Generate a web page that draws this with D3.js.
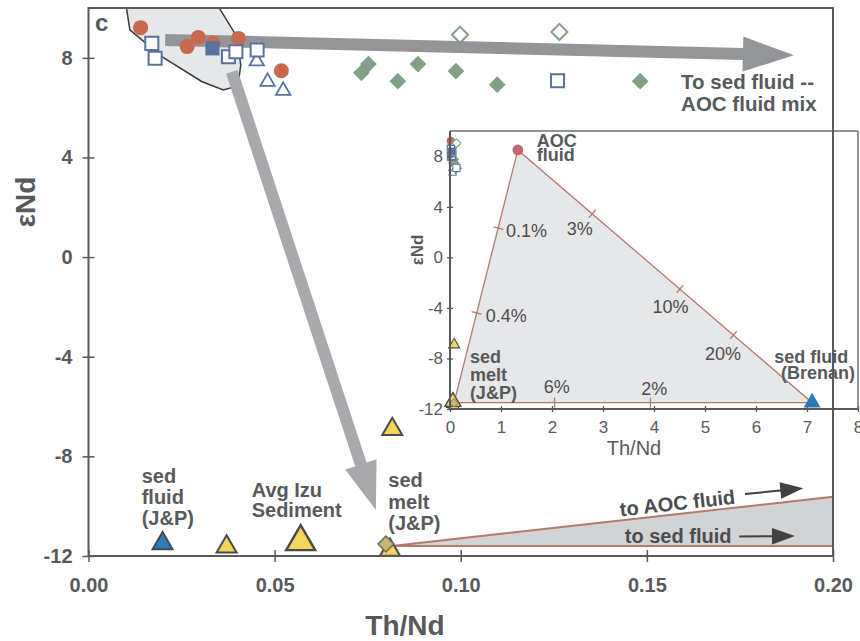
<!DOCTYPE html>
<html>
<head>
<meta charset="utf-8">
<script src="https://cdn.jsdelivr.net/npm/d3@7"></script>
<style>
  body { margin: 0; background: #fff; }
  svg { display: block; }
  text { font-family: "Liberation Sans", Arial, Helvetica, sans-serif; }
</style>
</head>
<body>
<svg id="chart" width="860" height="641"></svg>
<script>
// ---------- data: Th/Nd (x) vs εNd (y) ----------
const circleSamples   = [[0.0140, 9.21], [0.0265, 8.45], [0.0295, 8.82], [0.0335, 8.58], [0.0403, 8.78], [0.0518, 7.48]];
const openSquares     = [[0.0170, 8.58], [0.0179, 7.98], [0.0376, 8.04], [0.0396, 8.24], [0.0453, 8.31], [0.1260, 7.08]];
const filledSquares   = [[0.0333, 8.38]];
const openTriangles   = [[0.0452, 7.86], [0.0481, 7.04], [0.0523, 6.68]];
const filledDiamonds  = [[0.0733, 7.40], [0.0752, 7.75], [0.0831, 7.06], [0.0885, 7.75], [0.0987, 7.47], [0.1098, 6.92], [0.1482, 7.06]];
const openDiamonds    = [[0.0998, 8.93], [0.1265, 9.04]];
const sedimentSamples = [[0.0371, -11.63], [0.0816, -6.91], [0.0810, -11.76]];
const avgIzuSediment  = [[0.0570, -11.43]];
const sedFluidJP      = [[0.0199, -11.50]];
const sedMeltJP       = [[0.0799, -11.52]];

// shaded field enclosing the low Th/Nd, high εNd samples
const fieldOutline = [[0.0098, 10.4], [0.0111, 9.12], [0.0197, 8.05], [0.0304, 7.05], [0.0362, 6.71],
                      [0.0389, 6.82], [0.0405, 7.25], [0.0409, 7.72], [0.0398, 8.86], [0.0335, 10.4]];

// mixing wedge from sediment melt toward the two fluids
const wedgeApex     = [0.0815, -11.6];
const wedgeToAOC    = [0.20, -9.62];
const wedgeToSedFl  = [0.20, -11.6];

// trend arrows (start, tip)
const trendToFluids = [[0.0206, 8.72], [0.1895, 8.10]];
const trendToMelt   = [[0.0385, 7.44], [0.0772, -10.15]];

// small arrows beside the wedge labels
const arrowAOC   = [[0.17636, -9.511], [0.19202, -9.282]];
const arrowSedFl = [[0.17483, -11.217], [0.18979, -11.197]];

// inset end-members
const aocFluid      = [1.33, 8.5];
const sedFluidBren  = [7.10, -11.5];
const sedMeltInset  = [0.08, -11.5];

// mixing-line ticks: edge, position, label
const mixTicks = [
  { edge: "melt-aoc",  p: [0.95, 2.32],   label: "0.1%", at: [1.10, 1.59] },
  { edge: "melt-aoc",  p: [0.52, -4.40],  label: "0.4%", at: [0.70, -5.09] },
  { edge: "aoc-bren",  p: [2.79, 3.45],   label: "3%",   at: [2.29, 1.77] },
  { edge: "aoc-bren",  p: [4.51, -2.50],  label: "10%",  at: [3.97, -4.43] },
  { edge: "aoc-bren",  p: [5.56, -6.14],  label: "20%",  at: [5.00, -8.12] },
  { edge: "melt-bren", p: [2.05, -11.5],  label: "6%",   at: [1.84, -10.76] },
  { edge: "melt-bren", p: [3.93, -11.5],  label: "2%",   at: [3.75, -10.89] }
];

// tick values
const xTicks  = [0, 0.05, 0.10, 0.15, 0.20];
const yTicks  = [-12, -8, -4, 0, 4, 8];
const xiTicks = [0, 1, 2, 3, 4, 5, 6, 7, 8];
const yiTicks = [-12, -8, -4, 0, 4, 8];

// ---------- styles ----------
const AXIS = "#58595b", TEXT = "#58595b";
const RED = "#c8694e", BLUE = "#5a72a0", GREEN = "#82a085";
const YELLOW = "#f3d55b", DARK = "#4a4a4c", BLUE_TRI = "#2f7db8", TAN = "#c9b56c";
const LINE_ROSE = "#b5786f";
const intLabel = d => String(d);   // plain hyphen for negatives

const svg = d3.select("#chart");

// ---------- scales ----------
const x = d3.scaleLinear().domain([0, 0.2]).range([88.5, 833]);
const y = d3.scaleLinear().domain([-12, 10]).range([556, 8]);
const xi = d3.scaleLinear().domain([0, 8]).range([450, 858]);
const yi = d3.scaleLinear().domain([-12, 10]).range([409, 131]);

svg.append("defs").append("clipPath").attr("id", "plotClip")
  .append("rect").attr("x", x(0)).attr("y", y(10)).attr("width", x(0.2) - x(0)).attr("height", y(-12) - y(10));

// ---------- helpers ----------
const sym = (type, size) => d3.symbol().type(type).size(size)();

function drawSeries(g, sx, sy, k) {
  const place = d => `translate(${sx(d[0])},${sy(d[1])})`;
  // circles
  g.selectAll(null).data(circleSamples).join("path")
    .attr("d", sym(d3.symbolCircle, 177 * k * k)).attr("transform", place)
    .attr("fill", RED);
  // filled diamonds
  g.selectAll(null).data(filledDiamonds).join("path")
    .attr("d", sym(d3.symbolSquare, 140 * k * k)).attr("transform", d => place(d) + " rotate(45)")
    .attr("fill", GREEN);
  // open diamonds
  g.selectAll(null).data(openDiamonds).join("path")
    .attr("d", sym(d3.symbolSquare, 130 * k * k)).attr("transform", d => place(d) + " rotate(45)")
    .attr("fill", "#fff").attr("stroke", GREEN).attr("stroke-width", 2 * k);
  // open triangles
  g.selectAll(null).data(openTriangles).join("path")
    .attr("d", sym(d3.symbolTriangle, 90 * k * k)).attr("transform", place)
    .attr("fill", "#fff").attr("stroke", BLUE).attr("stroke-width", 1.8 * k);
  // open squares
  g.selectAll(null).data(openSquares).join("path")
    .attr("d", sym(d3.symbolSquare, 170 * k * k)).attr("transform", place)
    .attr("fill", "#fff").attr("stroke", BLUE).attr("stroke-width", 2 * k);
  // filled squares
  g.selectAll(null).data(filledSquares).join("path")
    .attr("d", sym(d3.symbolSquare, 200 * k * k)).attr("transform", place)
    .attr("fill", BLUE);
  // sediment end-members
  g.selectAll(null).data(sedFluidJP).join("path")
    .attr("d", sym(d3.symbolTriangle, 0.433 * 20 * 20 * k * k)).attr("transform", place)
    .attr("fill", BLUE_TRI).attr("stroke", DARK).attr("stroke-width", 2 * k);
  g.selectAll(null).data(sedimentSamples).join("path")
    .attr("d", sym(d3.symbolTriangle, 0.433 * 20 * 20 * k * k)).attr("transform", place)
    .attr("fill", YELLOW).attr("stroke", DARK).attr("stroke-width", 2 * k);
  g.selectAll(null).data(avgIzuSediment).join("path")
    .attr("d", sym(d3.symbolTriangle, 0.433 * 29 * 29 * k * k)).attr("transform", place)
    .attr("fill", YELLOW).attr("stroke", DARK).attr("stroke-width", 2.4 * k);
  g.selectAll(null).data(sedMeltJP).join("path")
    .attr("d", sym(d3.symbolSquare, 125 * k * k)).attr("transform", d => place(d) + " rotate(45)")
    .attr("fill", TAN).attr("stroke", "#6d6e71").attr("stroke-width", 1.5 * k);
}

function arrowShape(p0, p1, shaft, headLen, headHalf) {
  const dx = p1[0] - p0[0], dy = p1[1] - p0[1], L = Math.hypot(dx, dy);
  const ux = dx / L, uy = dy / L, nx = -uy, ny = ux;
  const b = [p1[0] - ux * headLen, p1[1] - uy * headLen];
  const hs = shaft / 2;
  const pts = [
    [p0[0] + nx * hs, p0[1] + ny * hs], [b[0] + nx * hs, b[1] + ny * hs],
    [b[0] + nx * headHalf, b[1] + ny * headHalf], p1,
    [b[0] - nx * headHalf, b[1] - ny * headHalf], [b[0] - nx * hs, b[1] - ny * hs],
    [p0[0] - nx * hs, p0[1] - ny * hs]
  ];
  return d3.line()(pts) + "Z";
}
const px = d => [x(d[0]), y(d[1])];

function multiText(g, lines, X, Y, lh, opts) {
  const t = g.append("text").attr("x", X).attr("y", Y)
    .attr("font-size", opts.size).attr("font-weight", opts.weight || "bold")
    .attr("fill", opts.fill || TEXT).attr("text-anchor", opts.anchor || "start");
  lines.forEach((s, i) => t.append("tspan").attr("x", X).attr("dy", i ? lh : 0).text(s));
  return t;
}

// ---------- main plot ----------
const main = svg.append("g");
const clipped = main.append("g").attr("clip-path", "url(#plotClip)");

clipped.append("path")
  .attr("d", d3.line().x(d => x(d[0])).y(d => y(d[1])).curve(d3.curveLinearClosed)(fieldOutline))
  .attr("fill", "#e6e7e8").attr("stroke", "#3b3b3d").attr("stroke-width", 1.5);

// wedge
clipped.append("path")
  .attr("d", d3.line()([px(wedgeApex), px(wedgeToAOC), px(wedgeToSedFl)]) + "Z")
  .attr("fill", "#d1d3d4");
[wedgeToAOC, wedgeToSedFl].forEach(e => {
  clipped.append("line")
    .attr("x1", x(wedgeApex[0])).attr("y1", y(wedgeApex[1]))
    .attr("x2", x(e[0])).attr("y2", y(e[1]))
    .attr("stroke", LINE_ROSE).attr("stroke-width", 2);
});

// trend arrows
clipped.append("path").attr("d", arrowShape(px(trendToFluids[0]), px(trendToFluids[1]), 12, 51, 17.5))
  .attr("fill", "#939598");
clipped.append("path").attr("d", arrowShape(px(trendToMelt[0]), px(trendToMelt[1]), 12, 48, 16.5))
  .attr("fill", "#a7a9ac");

drawSeries(main.append("g"), x, y, 1);

// wedge labels and arrows
const angAOC = Math.atan2(y(wedgeToAOC[1]) - y(wedgeApex[1]), x(wedgeToAOC[0]) - x(wedgeApex[0])) * 180 / Math.PI;
main.append("text").attr("transform", `translate(${x(0.1584)},${y(-10.153)}) rotate(${angAOC})`)
  .attr("text-anchor", "middle").attr("font-size", 20).attr("font-weight", "bold").attr("fill", "#4d4d4f")
  .text("to AOC fluid");
main.append("text").attr("x", x(0.1584)).attr("y", y(-11.466))
  .attr("text-anchor", "middle").attr("font-size", 20).attr("font-weight", "bold").attr("fill", "#4d4d4f")
  .text("to sed fluid");
[arrowAOC, arrowSedFl].forEach(a => {
  main.append("path").attr("d", arrowShape(px(a[0]), px(a[1]), 2, 23, 8.3)).attr("fill", "#414042");
});

// labels
multiText(main, ["To sed fluid --", "AOC fluid mix"], x(0.1592), y(6.75), 22, { size: 20.5 });
multiText(main, ["sed", "fluid", "(J&P)"], x(0.01429), y(-9.07), 21, { size: 20 });
multiText(main, ["Avg Izu", "Sediment"], x(0.04384), y(-9.62), 20.6, { size: 20 });
multiText(main, ["sed", "melt", "(J&P)"], x(0.08054), y(-9.24), 21.5, { size: 20 });
main.append("text").attr("x", x(0.00175)).attr("y", y(9.08))
  .attr("font-size", 24).attr("font-weight", "bold").attr("fill", TEXT).text("c");

// axes
const gx = main.append("g").attr("transform", `translate(0,${y(-12)})`)
  .call(d3.axisBottom(x).tickValues(xTicks).tickFormat(d3.format(".2f")).tickSize(6).tickPadding(16));
gx.select(".domain").remove();
gx.selectAll("line").attr("y1", -6).attr("stroke", AXIS).attr("stroke-width", 1.5);
gx.selectAll("text").attr("font-size", 20).attr("font-weight", "bold").attr("fill", TEXT);

const gy = main.append("g").attr("transform", `translate(${x(0)},0)`)
  .call(d3.axisLeft(y).tickValues(yTicks).tickFormat(intLabel).tickSize(6).tickPadding(10));
gy.select(".domain").remove();
gy.selectAll("line").attr("x1", 6).attr("stroke", AXIS).attr("stroke-width", 1.5);
gy.selectAll("text").attr("font-size", 20).attr("font-weight", "bold").attr("fill", TEXT);

main.append("text").attr("x", 405).attr("y", 635).attr("text-anchor", "middle")
  .attr("font-size", 28).attr("font-weight", "bold").attr("fill", TEXT).text("Th/Nd");
main.append("text").attr("transform", "translate(35,202) rotate(-90)").attr("text-anchor", "middle")
  .attr("font-size", 28).attr("font-weight", "bold").attr("fill", TEXT).text("εNd");

// ---------- inset: full mixing triangle ----------
const inset = svg.append("g");
const pi = d => [xi(d[0]), yi(d[1])];

inset.append("path")
  .attr("d", d3.line()([pi(sedMeltInset), pi(aocFluid), pi(sedFluidBren)]) + "Z")
  .attr("fill", "#e6e7e8").attr("stroke", LINE_ROSE).attr("stroke-width", 1.3);

const edges = { "melt-aoc": [sedMeltInset, aocFluid], "aoc-bren": [aocFluid, sedFluidBren], "melt-bren": [sedMeltInset, sedFluidBren] };
mixTicks.forEach(t => {
  const [a, b] = edges[t.edge].map(pi);
  const L = Math.hypot(b[0] - a[0], b[1] - a[1]);
  const nx = -(b[1] - a[1]) / L, ny = (b[0] - a[0]) / L;
  const c = pi(t.p), h = 5;
  inset.append("line").attr("x1", c[0] - nx * h).attr("y1", c[1] - ny * h)
    .attr("x2", c[0] + nx * h).attr("y2", c[1] + ny * h)
    .attr("stroke", LINE_ROSE).attr("stroke-width", 1.3);
  inset.append("text").attr("x", xi(t.at[0])).attr("y", yi(t.at[1]))
    .attr("font-size", 18).attr("fill", "#4d4d4f").text(t.label);
});

drawSeries(inset.append("g"), xi, yi, 0.55);

inset.append("path").attr("d", sym(d3.symbolCircle, Math.PI * 5.4 * 5.4))
  .attr("transform", `translate(${xi(aocFluid[0])},${yi(aocFluid[1])})`).attr("fill", "#c0666f");
inset.append("path").attr("d", sym(d3.symbolTriangle, 0.433 * 17 * 17))
  .attr("transform", `translate(${xi(sedFluidBren[0])},${yi(sedFluidBren[1])})`).attr("fill", "#2b7bba");

multiText(inset, ["AOC", "fluid"], xi(1.70), yi(8.76), 14.5, { size: 18 });
const brenan = multiText(inset, ["sed fluid", "(Brenan)"], xi(7.81), yi(-8.38), 15.5, { size: 18, anchor: "end" });
brenan.select("tspan:last-child").attr("x", xi(7.94));
multiText(inset, ["sed", "melt", "(J&P)"], xi(0.39), yi(-8.38), 18, { size: 18 });

// inset axes
const gxi = inset.append("g").attr("transform", `translate(0,${yi(-12)})`)
  .call(d3.axisBottom(xi).tickValues(xiTicks).tickFormat(intLabel).tickSize(3).tickPadding(9));
gxi.select(".domain").remove();
gxi.selectAll("line").attr("y1", -3).attr("stroke", AXIS).attr("stroke-width", 1.3);
gxi.selectAll("text").attr("font-size", 17).attr("fill", TEXT);

const gyi = inset.append("g").attr("transform", `translate(${xi(0)},0)`)
  .call(d3.axisLeft(yi).tickValues(yiTicks).tickFormat(intLabel).tickSize(3).tickPadding(4));
gyi.select(".domain").remove();
gyi.selectAll("line").attr("x1", 3).attr("stroke", AXIS).attr("stroke-width", 1.3);
gyi.selectAll("text").attr("font-size", 17).attr("fill", TEXT);

inset.append("line").attr("x1", xi(0)).attr("x2", xi(8)).attr("y1", yi(10)).attr("y2", yi(10))
  .attr("stroke", "#6d6e71").attr("stroke-width", 1.5);
inset.append("line").attr("x1", xi(8)).attr("x2", xi(8)).attr("y1", yi(10)).attr("y2", yi(-12))
  .attr("stroke", "#6d6e71").attr("stroke-width", 1.5);
inset.append("line").attr("x1", xi(0)).attr("x2", xi(0)).attr("y1", yi(10)).attr("y2", yi(-12))
  .attr("stroke", AXIS).attr("stroke-width", 2);
inset.append("line").attr("x1", xi(0)).attr("x2", xi(8)).attr("y1", yi(-12)).attr("y2", yi(-12))
  .attr("stroke", AXIS).attr("stroke-width", 2);

inset.append("text").attr("x", 634).attr("y", 455).attr("text-anchor", "middle")
  .attr("font-size", 20).attr("fill", TEXT).text("Th/Nd");
inset.append("text").attr("transform", "translate(423,250) rotate(-90)").attr("text-anchor", "middle")
  .attr("font-size", 17).attr("font-weight", "bold").attr("fill", TEXT).text("εNd");

// ---------- main frame on top ----------
svg.append("rect")
  .attr("x", x(0)).attr("y", y(10)).attr("width", x(0.2) - x(0)).attr("height", y(-12) - y(10))
  .attr("fill", "none").attr("stroke", AXIS).attr("stroke-width", 2);
</script>
</body>
</html>
